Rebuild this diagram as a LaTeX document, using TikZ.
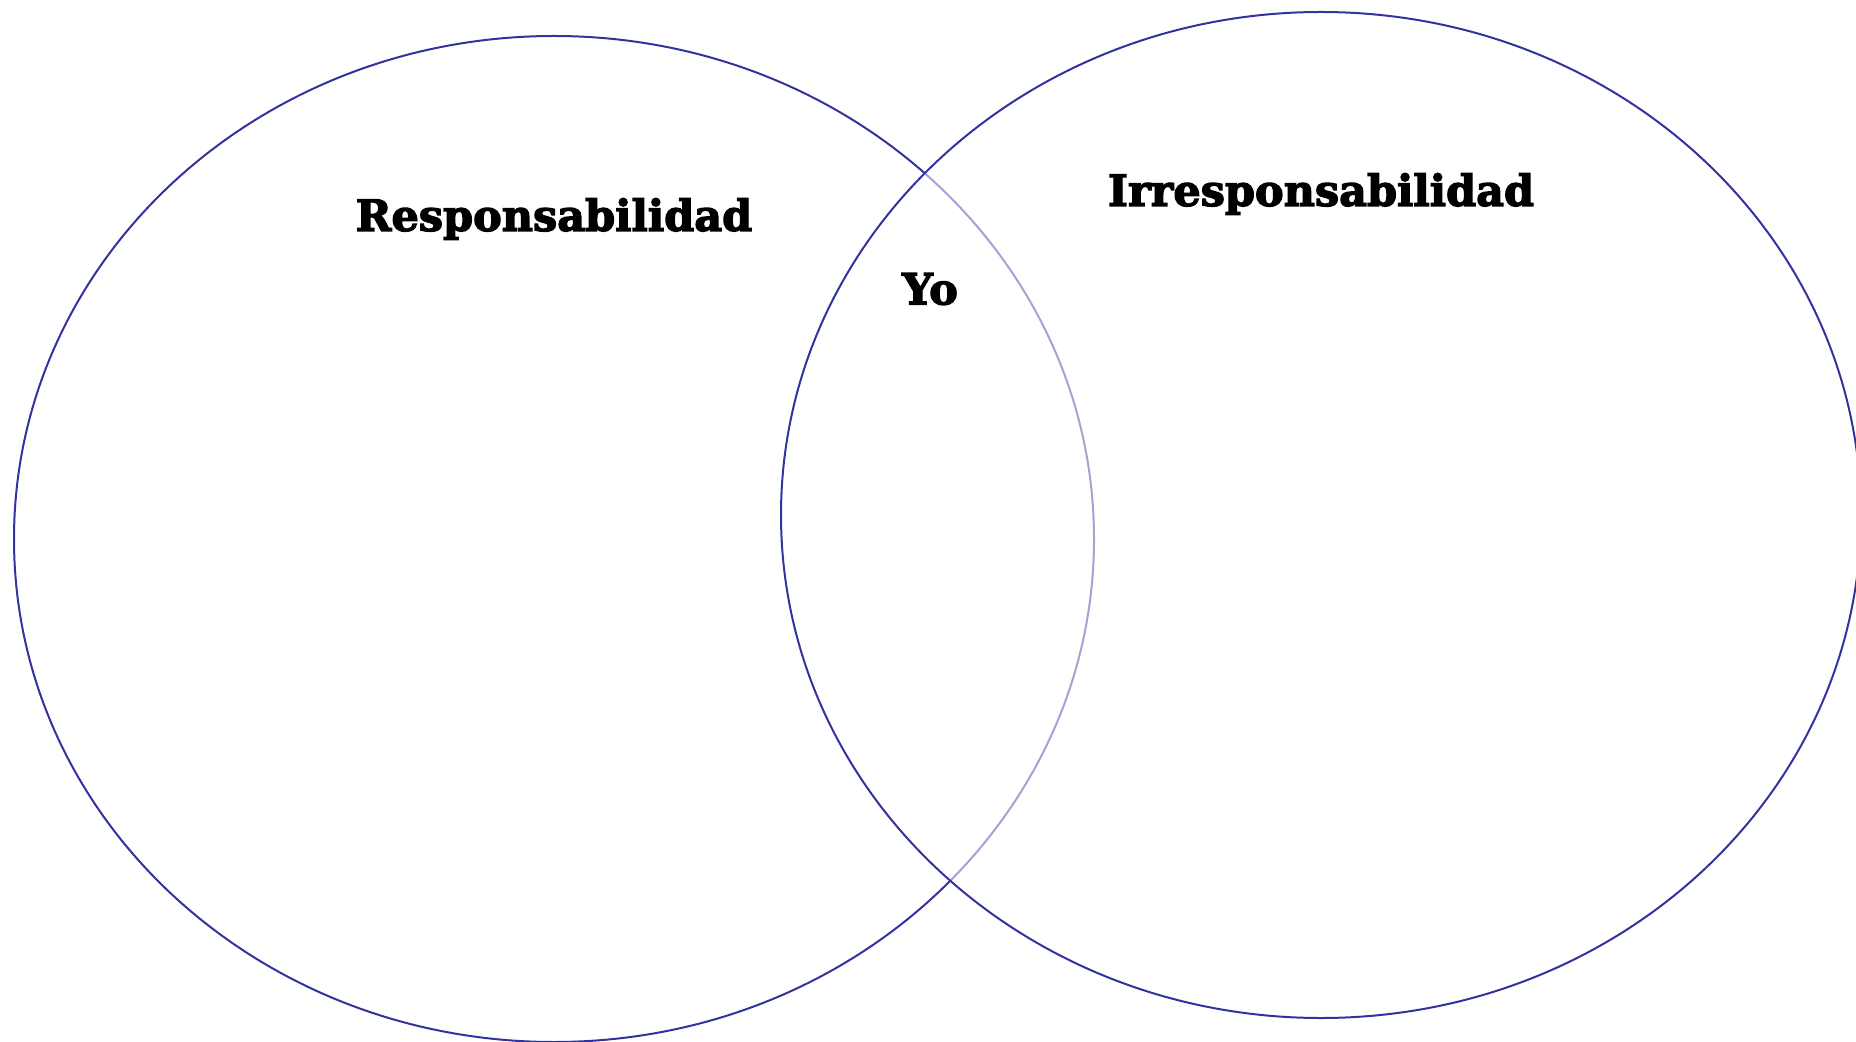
\documentclass[tikz,border=0pt]{standalone}
\usepackage{fontspec}
\setmainfont{DejaVu Serif}
\newfontfamily\heavyserif{DejaVu Serif}[BoldFeatures={FakeBold=3}]
\usetikzlibrary{shapes.geometric,positioning}

\definecolor{vennblue}{HTML}{3333A0}

\tikzset{
  setring/.style={ellipse, draw=vennblue, line width=1pt,
    minimum width=540pt, minimum height=503pt, inner sep=0pt},
  setlabel/.style={font=\heavyserif\bfseries\fontsize{21.5}{24}\selectfont, text=black}
}

\begin{document}
\begin{tikzpicture}[x=0.5pt, y=-0.5pt]
  \useasboundingbox (0,0) rectangle (1856,1042);
  \clip (0,0) rectangle (1856,1042);

  % the two sets
  \node[setring] (resp) at (554,539) {};
  \node[setring, fill=white, fill opacity=0.55] (irresp) at (1321,515) {};

  % labels
  \node[setlabel] (resplabel) at (554,219) {Responsabilidad};
  \node[setlabel] (irresplabel) at (1321,194) {Irresponsabilidad};
  \node[setlabel] (yo) at (930,289) {Yo};
\end{tikzpicture}
\end{document}
